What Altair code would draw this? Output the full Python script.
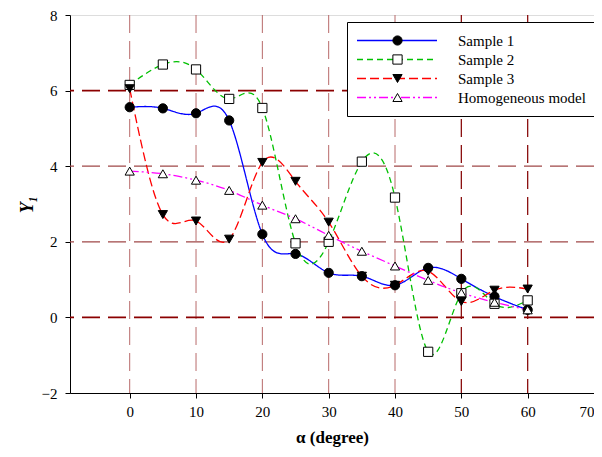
import altair as alt
import pandas as pd

# ---- data ----
alpha = [0, 5, 10, 15, 20, 25, 30, 35, 40, 45, 50, 55, 60]
sample1 = [5.56, 5.53, 5.40, 5.21, 2.20, 1.68, 1.18, 1.09, 0.85, 1.31, 1.02, 0.55, 0.20]
sample2 = [6.15, 6.69, 6.56, 5.78, 5.54, 1.96, 2.00, 4.12, 3.17, -0.91, 0.64, 0.36, 0.45]
sample3 = [6.05, 2.72, 2.55, 2.07, 4.10, 3.60, 2.52, 1.09, 0.85, 1.22, 0.42, 0.72, 0.75]
homog = [3.87, 3.80, 3.63, 3.36, 2.97, 2.61, 2.17, 1.75, 1.36, 0.98, 0.65, 0.40, 0.20]

series_names = ["Sample 1", "Sample 2", "Sample 3", "Homogeneous model"]
marker_keys = ["m1", "m2", "m3", "m4"]
series_values = [sample1, sample2, sample3, homog]
line_colors = ["#0000ff", "#00c000", "#ff0000", "#ff00ff"]
line_dashes = [[1, 0], [6, 4], [9, 4], [9, 3, 2, 3, 2, 3]]
marker_shapes = ["circle", "square", "triangle-down", "triangle-up"]
marker_fills = ["black", "white", "black", "white"]
marker_strokes = ["black", "black", "black", "black"]

x_ticks = [0, 10, 20, 30, 40, 50, 60, 70]
y_ticks = [-2, 0, 2, 4, 6, 8]
grid_x_light = [0, 10, 20, 30, 40]
grid_x_dark = [50, 60]
grid_y_light = [2, 4]
grid_y_dark = [0, 6]

rows = []
for name, key, vals in zip(series_names, marker_keys, series_values):
    for a, v in zip(alpha, vals):
        rows.append({"alpha": a, "Y": v, "series": name, "marker": key})
df = pd.DataFrame(rows)

FONT = "'Liberation Serif', 'Times New Roman', serif"
xscale = alt.Scale(domain=[-9, 70], nice=False, zero=False)
yscale = alt.Scale(domain=[-2, 8], nice=False, zero=False)

x_axis = alt.Axis(values=x_ticks, title="α (degree)", grid=False,
                  tickSize=5, tickColor="black", domainColor="black",
                  labelFont=FONT, labelFontSize=15, labelPadding=6,
                  labelColor="black", titleFont=FONT, titleFontSize=17,
                  titleFontWeight="bold", titleColor="black", titlePadding=10,
                  labelFlush=True)
y_axis = alt.Axis(values=y_ticks, title="Y₁", grid=False,
                  tickSize=5, tickColor="black", domainColor="black",
                  labelFont=FONT, labelFontSize=15, labelPadding=8,
                  labelColor="black", titleFont=FONT, titleFontSize=18,
                  titleFontWeight="bold", titleFontStyle="italic",
                  titleColor="black", titlePadding=5, labelFlush=False)

def vgrid(vals, color, width):
    return alt.Chart(pd.DataFrame({"alpha": vals})).mark_rule(
        color=color, strokeWidth=width, strokeDash=[18, 8]
    ).encode(x=alt.X("alpha:Q", scale=xscale, axis=x_axis))

def hgrid(vals, color, width):
    return alt.Chart(pd.DataFrame({"Y": vals})).mark_rule(
        color=color, strokeWidth=width, strokeDash=[18, 8]
    ).encode(y=alt.Y("Y:Q", scale=yscale, axis=y_axis))

grids = [
    vgrid(grid_x_light, "#b86a6a", 1),
    vgrid(grid_x_dark, "#8b1010", 1.3),
    hgrid(grid_y_light, "#a04848", 1.2),
    hgrid(grid_y_dark, "#8b0000", 1.6),
]

lines = alt.Chart(df).mark_line(interpolate="natural", strokeWidth=1.3).encode(
    x=alt.X("alpha:Q", scale=xscale, axis=x_axis),
    y=alt.Y("Y:Q", scale=yscale, axis=y_axis),
    color=alt.Color("series:N", scale=alt.Scale(domain=series_names, range=line_colors),
                    legend=alt.Legend(orient="none", legendX=277, legendY=7, title=None,
                                      symbolType="stroke", symbolSize=6400,
                                      symbolStrokeWidth=1.5, clipHeight=19, rowPadding=0,
                                      padding=9, labelOffset=20, labelFont=FONT,
                                      labelFontSize=15, labelColor="black",
                                      fillColor="white", strokeColor="black",
                                      zindex=1)),
    strokeDash=alt.StrokeDash("series:N",
                              scale=alt.Scale(domain=series_names, range=line_dashes)),
)

points = alt.Chart(df).mark_point(filled=True, strokeWidth=1,
                                  size=85, opacity=1).encode(
    x=alt.X("alpha:Q", scale=xscale, axis=x_axis),
    y=alt.Y("Y:Q", scale=yscale, axis=y_axis),
    shape=alt.Shape("marker:N",
                    scale=alt.Scale(domain=marker_keys, range=marker_shapes),
                    legend=alt.Legend(orient="none", legendX=313, legendY=7, title=None,
                                      symbolSize=85, symbolStrokeWidth=1,
                                      symbolOpacity=1, clipHeight=19,
                                      rowPadding=0, padding=9, labelExpr="''",
                                      labelFontSize=10, zindex=2)),
    fill=alt.Fill("marker:N",
                  scale=alt.Scale(domain=marker_keys, range=marker_fills)),
    stroke=alt.Stroke("marker:N",
                      scale=alt.Scale(domain=marker_keys, range=marker_strokes)),
)

chart = alt.layer(*grids, lines, points).properties(
    width=524, height=378,
    autosize=alt.AutoSizeParams(type="none"),
    padding={"left": 62, "top": 7, "right": 0, "bottom": 56},
).configure_view(stroke="black", strokeWidth=1.5).configure(background="white")

chart.save("out.html", embed_options={"renderer": "svg", "actions": False})
